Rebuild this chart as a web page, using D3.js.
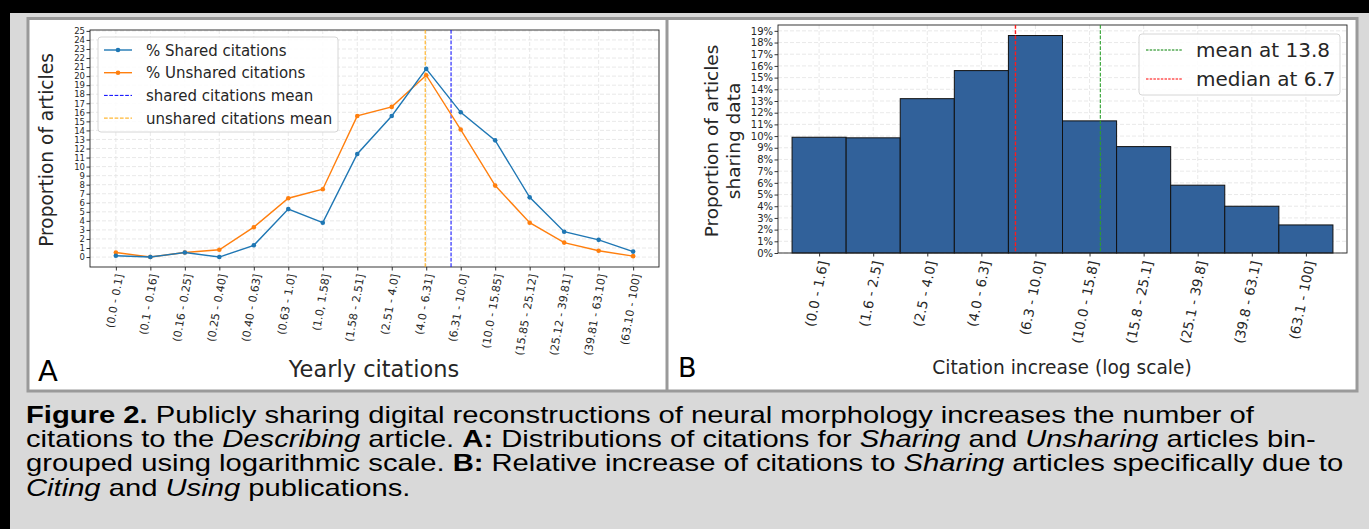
<!DOCTYPE html>
<html lang="en">
<head>
<meta charset="UTF-8">
<title>Figure 2</title>
<script src="https://d3js.org/d3.v7.min.js"></script>
<style>
    body { margin: 0; background: #d9d9d9; }
    svg { display: block; }
    .plot text { font-family: "DejaVu Sans", sans-serif; fill: #262626; }
    .caption text { font-family: "Liberation Sans", Arial, sans-serif; fill: #000; }
</style>
</head>
<body>
<svg id="fig" width="1369" height="529"></svg>
<script>
    // panel A: yearly citation bins and percentages
    const binsA = ["(0.0 - 0.1]", "(0.1 - 0.16]", "(0.16 - 0.25]", "(0.25 - 0.40]", "(0.40 - 0.63]",
        "(0.63 - 1.0]", "(1.0, 1.58]", "(1.58 - 2.51]", "(2.51 - 4.0]", "(4.0 - 6.31]", "(6.31 - 10.0]",
        "(10.0 - 15.85]", "(15.85 - 25.12]", "(25.12 - 39.81]", "(39.81 - 63.10]", "(63.10 - 100]"];
    const sharedPct = [0.15, 0, 0.5, 0, 1.3, 5.3, 3.8, 11.4, 15.6, 20.8, 16.0, 12.9, 6.6, 2.8, 1.9, 0.6];
    const unsharedPct = [0.5, 0, 0.5, 0.8, 3.3, 6.5, 7.5, 15.6, 16.6, 20.1, 14.1, 7.9, 3.8, 1.6, 0.7, 0.1];
    const sharedMeanBin = 9.72;
    const unsharedMeanBin = 8.97;
    const yTicksA = d3.range(0, 26);

    // panel B: citation increase bins
    const binsB = ["(0.0 - 1.6]", "(1.6 - 2.5]", "(2.5 - 4.0]", "(4.0 - 6.3]", "(6.3 - 10.0]",
        "(10.0 - 15.8]", "(15.8 - 25.1]", "(25.1 - 39.8]", "(39.8 - 63.1]", "(63.1 - 100]"];
    const sharingPct = [9.9, 9.85, 13.2, 15.6, 18.6, 11.3, 9.1, 5.8, 4.0, 2.4];
    const meanB = 13.8;
    const medianB = 6.7;
    const yTicksB = d3.range(0, 20);

    const svg = d3.select("#fig");

    // background frame
    svg.append("rect").attr("width", 1369).attr("height", 529).attr("fill", "#d9d9d9");
    svg.append("rect").attr("width", 1369).attr("height", 13).attr("fill", "#000");
    svg.append("rect").attr("width", 10).attr("height", 529).attr("fill", "#000");
    svg.append("rect").attr("x", 28).attr("y", 18.5).attr("width", 1329).attr("height", 372.5)
        .attr("fill", "#fff").attr("stroke", "#9a9a9a").attr("stroke-width", 3);
    svg.append("line").attr("x1", 667).attr("x2", 667).attr("y1", 18).attr("y2", 391)
        .attr("stroke", "#9a9a9a").attr("stroke-width", 3);

    const plot = svg.append("g").attr("class", "plot");

    // ---------- panel A ----------
    const xA = d3.scaleLinear().domain([-0.75, 15.75]).range([90, 659]);
    const yA = d3.scaleLinear().domain([-1.1, 25.1]).range([267, 30]);

    const gA = plot.append("g");

    // grid
    gA.append("g").selectAll("line").data(yTicksA).enter().append("line")
        .attr("x1", 90).attr("x2", 659)
        .attr("y1", d => yA(d)).attr("y2", d => yA(d))
        .attr("stroke", "#e3e3e3").attr("stroke-width", 0.8).attr("stroke-dasharray", "4,2");
    gA.append("g").selectAll("line").data(binsA).enter().append("line")
        .attr("x1", (d, i) => xA(i)).attr("x2", (d, i) => xA(i))
        .attr("y1", 30).attr("y2", 267)
        .attr("stroke", "#e3e3e3").attr("stroke-width", 0.8).attr("stroke-dasharray", "4,2");

    // axes
    const axisLeftA = gA.append("g").attr("transform", "translate(90,0)")
        .call(d3.axisLeft(yA).tickValues(yTicksA).tickSize(3.5).tickPadding(1.5));
    axisLeftA.selectAll("text").style("font-size", "8.5px");

    const axisBottomA = gA.append("g").attr("transform", "translate(0,267)")
        .call(d3.axisBottom(xA).tickValues(d3.range(binsA.length)).tickFormat(i => binsA[i]).tickSize(3.5));
    axisBottomA.selectAll("text")
        .style("font-size", "11px")
        .attr("text-anchor", "end")
        .attr("dy", "0.35em")
        .attr("transform", "translate(3,7) rotate(-80)")
        .attr("x", 0).attr("y", 0);
    [axisLeftA, axisBottomA].forEach(a => {
        a.selectAll(".domain").remove();
        a.selectAll(".tick line").attr("stroke", "#333");
    });
    gA.append("rect").attr("x", 90).attr("y", 30).attr("width", 569).attr("height", 237)
        .attr("fill", "none").attr("stroke", "#222").attr("stroke-width", 0.9);

    // mean lines
    gA.append("line").attr("x1", xA(sharedMeanBin)).attr("x2", xA(sharedMeanBin))
        .attr("y1", 30).attr("y2", 267)
        .attr("stroke", "blue").attr("stroke-width", 1).attr("stroke-dasharray", "3.7,1.6");
    gA.append("line").attr("x1", xA(unsharedMeanBin)).attr("x2", xA(unsharedMeanBin))
        .attr("y1", 30).attr("y2", 267)
        .attr("stroke", "orange").attr("stroke-width", 1).attr("stroke-dasharray", "3.7,1.6");

    // series
    const lineA = d3.line().x((d, i) => xA(i)).y(d => yA(d));
    [[unsharedPct, "#ff7f0e"], [sharedPct, "#1f77b4"]].forEach(([vals, col]) => {
        gA.append("path").datum(vals).attr("d", lineA)
            .attr("fill", "none").attr("stroke", col).attr("stroke-width", 1.4);
        gA.append("g").selectAll("circle").data(vals).enter().append("circle")
            .attr("cx", (d, i) => xA(i)).attr("cy", d => yA(d)).attr("r", 2.3)
            .attr("fill", col);
    });

    // legend A
    const legA = gA.append("g");
    legA.append("rect").attr("x", 98).attr("y", 37).attr("width", 240).attr("height", 95)
        .attr("rx", 3).attr("fill", "#fff").attr("fill-opacity", 0.85)
        .attr("stroke", "#d6d6d6").attr("stroke-width", 1);
    const legItemsA = [
        { label: "% Shared citations", color: "#1f77b4", dash: null, marker: true },
        { label: "% Unshared citations", color: "#ff7f0e", dash: null, marker: true },
        { label: "shared citations mean", color: "blue", dash: "3.7,1.6", marker: false },
        { label: "unshared citations mean", color: "orange", dash: "3.7,1.6", marker: false }
    ];
    legItemsA.forEach((d, i) => {
        const cy = 50 + i * 22.7;
        legA.append("line").attr("x1", 104).attr("x2", 132).attr("y1", cy).attr("y2", cy)
            .attr("stroke", d.color).attr("stroke-width", d.marker ? 1.4 : 1)
            .attr("stroke-dasharray", d.dash);
        if (d.marker) legA.append("circle").attr("cx", 118).attr("cy", cy).attr("r", 2.3).attr("fill", d.color);
        legA.append("text").attr("x", 146).attr("y", cy + 5.5).style("font-size", "15px").text(d.label);
    });

    // labels A
    gA.append("text")
        .attr("transform", "translate(53,150) rotate(-90)")
        .attr("text-anchor", "middle").style("font-size", "18.6px")
        .text("Proportion of articles");
    gA.append("text").attr("x", 374).attr("y", 377)
        .attr("text-anchor", "middle").style("font-size", "22.5px")
        .text("Yearly citations");
    gA.append("text").attr("x", 38).attr("y", 381).style("font-size", "29px").style("fill", "#000").text("A");

    // ---------- panel B ----------
    const xB = d3.scaleLinear().domain([-0.26, 10.26]).range([778, 1347]);
    const yB = d3.scaleLinear().domain([0, 19.5]).range([253, 25]);
    const logB = d3.scaleLog().domain([1, 100]).range([xB(0), xB(10)]);

    const gB = plot.append("g");

    gB.append("g").selectAll("line").data(yTicksB).enter().append("line")
        .attr("x1", 778).attr("x2", 1347)
        .attr("y1", d => yB(d)).attr("y2", d => yB(d))
        .attr("stroke", "#e3e3e3").attr("stroke-width", 0.8).attr("stroke-dasharray", "4,2");
    gB.append("g").selectAll("line").data(binsB).enter().append("line")
        .attr("x1", (d, i) => xB(i + 0.5)).attr("x2", (d, i) => xB(i + 0.5))
        .attr("y1", 25).attr("y2", 253)
        .attr("stroke", "#e3e3e3").attr("stroke-width", 0.8).attr("stroke-dasharray", "4,2");

    // bars
    gB.append("g").selectAll("rect").data(sharingPct).enter().append("rect")
        .attr("x", (d, i) => xB(i))
        .attr("width", xB(1) - xB(0))
        .attr("y", d => yB(d))
        .attr("height", d => yB(0) - yB(d))
        .attr("fill", "#31619a").attr("stroke", "#111").attr("stroke-width", 1);

    const axisLeftB = gB.append("g").attr("transform", "translate(778,0)")
        .call(d3.axisLeft(yB).tickValues(yTicksB).tickFormat(d => d + "%").tickSize(3.5).tickPadding(1.5));
    axisLeftB.selectAll("text").style("font-size", "10px");

    const axisBottomB = gB.append("g").attr("transform", "translate(0,253)")
        .call(d3.axisBottom(xB).tickValues(d3.range(binsB.length).map(i => i + 0.5))
            .tickFormat(v => binsB[Math.floor(v)]).tickSize(3.5));
    axisBottomB.selectAll("text")
        .style("font-size", "13.5px")
        .attr("text-anchor", "end")
        .attr("dy", "0.35em")
        .attr("transform", "translate(4,8) rotate(-78)")
        .attr("x", 0).attr("y", 0);
    [axisLeftB, axisBottomB].forEach(a => {
        a.selectAll(".domain").remove();
        a.selectAll(".tick line").attr("stroke", "#333");
    });
    gB.append("rect").attr("x", 778).attr("y", 25).attr("width", 569).attr("height", 228)
        .attr("fill", "none").attr("stroke", "#222").attr("stroke-width", 0.9);

    // mean / median
    gB.append("line").attr("x1", logB(medianB)).attr("x2", logB(medianB))
        .attr("y1", 25).attr("y2", 253)
        .attr("stroke", "#ff1a1a").attr("stroke-width", 1.4).attr("stroke-dasharray", "3.7,1.6");
    gB.append("line").attr("x1", logB(meanB)).attr("x2", logB(meanB))
        .attr("y1", 25).attr("y2", 253)
        .attr("stroke", "#2ca02c").attr("stroke-width", 1.1).attr("stroke-dasharray", "3.7,1.6");

    // legend B
    const legB = gB.append("g");
    legB.append("rect").attr("x", 1139).attr("y", 34).attr("width", 201).attr("height", 61)
        .attr("rx", 3).attr("fill", "#fff").attr("fill-opacity", 0.85)
        .attr("stroke", "#d6d6d6").attr("stroke-width", 1);
    [{ label: "mean at " + meanB, color: "green" }, { label: "median at " + medianB, color: "red" }]
        .forEach((d, i) => {
            const cy = 50 + i * 29;
            legB.append("line").attr("x1", 1146).attr("x2", 1182).attr("y1", cy).attr("y2", cy)
                .attr("stroke", d.color).attr("stroke-width", 1).attr("stroke-dasharray", "2.5,1.2");
            legB.append("text").attr("x", 1196).attr("y", cy + 7).style("font-size", "20px").text(d.label);
        });

    // labels B
    const ylabB = gB.append("text")
        .attr("transform", "translate(718,141) rotate(-90)")
        .attr("text-anchor", "middle").style("font-size", "18.5px");
    ylabB.append("tspan").attr("x", 0).attr("dy", 0).text("Proportion of articles");
    ylabB.append("tspan").attr("x", 0).attr("dy", 22).text("sharing data");
    gB.append("text").attr("x", 1062).attr("y", 374)
        .attr("text-anchor", "middle").style("font-size", "18.6px")
        .text("Citation increase (log scale)");
    gB.append("text").attr("x", 678).attr("y", 377).style("font-size", "27px").style("fill", "#000").text("B");

    // ---------- caption ----------
    const captionLines = [
        [["Figure 2.", "b"], [" Publicly sharing digital reconstructions of neural morphology increases the number of", ""]],
        [["citations to the ", ""], ["Describing", "i"], [" article. ", ""], ["A:", "b"],
            [" Distributions of citations for ", ""], ["Sharing", "i"], [" and ", ""], ["Unsharing", "i"], [" articles bin-", ""]],
        [["grouped using logarithmic scale. ", ""], ["B:", "b"], [" Relative increase of citations to ", ""],
            ["Sharing", "i"], [" articles specifically due to", ""]],
        [["Citing", "i"], [" and ", ""], ["Using", "i"], [" publications.", ""]]
    ];
    const cap = svg.append("g").attr("class", "caption")
        .attr("transform", "translate(26,0) scale(1.27,1) translate(-26,0)");
    captionLines.forEach((segs, i) => {
        const t = cap.append("text").attr("x", 26).attr("y", 423 + i * 24.2).style("font-size", "23px");
        segs.forEach(([s, st]) => {
            t.append("tspan")
                .style("font-weight", st === "b" ? "bold" : "normal")
                .style("font-style", st === "i" ? "italic" : "normal")
                .text(s);
        });
    });
</script>
</body>
</html>
